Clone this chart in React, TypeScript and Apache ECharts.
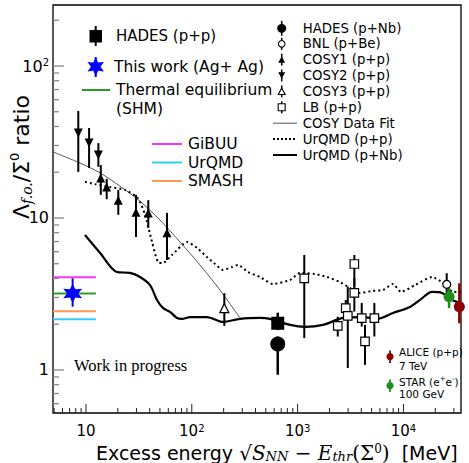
import React, { useEffect, useRef } from 'react';
import * as echarts from 'echarts';

// ---------- axis ranges ----------
const X_MIN = 4.88;
const X_MAX = 35000;
const Y_MIN = 0.521;
const Y_MAX = 252;

// ---------- tick labels ----------
const xTickValues = [10, 100, 1000, 10000];
const xTickLabels = ['10', '10{s|2}', '10{s|3}', '10{s|4}'];
const yTickValues = [1, 10, 100];
const yTickLabels = ['1', '10', '10{s|2}'];

// ---------- data ----------
const cosy1X = [13.8, 15.7, 20.2, 29.7, 38.8, 58.3];
const cosy1Y = [18.3, 16.0, 13.1, 10.9, 10.8, 8.0];
const cosy1Lo = [14.2, 13.3, 10.5, 7.5, 8.6, 5.3];
const cosy1Hi = [22.3, 18.1, 15.3, 14.2, 13.1, 10.8];

const cosy2X = [8.46, 10.7, 13.1];
const cosy2Y = [36.2, 31.1, 26.0];
const cosy2Lo = [20.1, 21.3, 21.7];
const cosy2Hi = [50.6, 39.1, 31.1];

const cosy3X = [203];
const cosy3Y = [2.55];
const cosy3Lo = [1.95];
const cosy3Hi = [3.2];

const lbX = [1156, 3436, 3436, 2851, 2979, 2395, 4036, 5312, 4335];
const lbY = [4.01, 4.98, 3.22, 2.55, 2.27, 1.95, 2.19, 2.19, 1.54];
const lbLo = [1.62, 3.5, 2.42, 2.2, 1.03, 1.66, 1.93, 1.66, 1.08];
const lbHi = [5.71, 5.71, 4.0, 2.89, 3.53, 2.24, 2.76, 2.76, 1.98];

const hadesPpX = [649];
const hadesPpY = [2.03];
const hadesPpLo = [1.83];
const hadesPpHi = [2.38];

const hadesPNbX = [649];
const hadesPNbY = [1.48];
const hadesPNbLo = [0.93];
const hadesPNbHi = [1.66];

const bnlX = [25650];
const bnlY = [3.66];
const bnlLo = [3.19];
const bnlHi = [4.33];

const starX = [27000];
const starY = [3.03];
const starLo = [2.55];
const starHi = [3.46];

const aliceX = [33750];
const aliceY = [2.61];
const aliceLo = [2.03];
const aliceHi = [3.72];

const thisWorkX = [7.48];
const thisWorkY = [3.19];
const thisWorkLo = [2.61];
const thisWorkHi = [4.01];

// model predictions (horizontal bands at low energy)
const modelXRange = [X_MIN, 12.4];
const shmY = 3.18;
const gibuuY = 4.07;
const urqmdAgY = 2.16;
const smashY = 2.43;

const cosyFitX = [4.88, 8.78, 13.6, 20.96, 32.4, 50.0, 77.3, 119.4, 184.5, 285];
const cosyFitY = [27.2, 23.0, 19.8, 16.2, 12.9, 9.7, 6.95, 4.91, 3.36, 2.2];

const urqmdPpX = [9.78, 12.2, 16.9, 23.4, 31.0, 36.1, 42.1, 47.9, 53.4, 65.0, 90.1, 112, 139, 166, 197, 240, 273, 340, 441, 585, 848, 1054, 1460, 1897, 2516, 3128, 3889, 5050, 6415, 7976, 9491, 12870, 18640, 23670, 29440, 35000];
const urqmdPpY = [17.3, 16.7, 16.0, 15.3, 13.5, 10.5, 6.95, 5.13, 5.06, 5.71, 6.95, 6.35, 5.54, 4.98, 4.55, 4.76, 4.91, 4.41, 4.09, 3.68, 3.91, 4.35, 4.28, 4.09, 3.79, 3.46, 3.21, 3.31, 3.36, 3.68, 3.26, 3.62, 4.09, 3.74, 3.26, 3.26];

const urqmdPNbX = [9.78, 13.6, 19.6, 26.1, 32.4, 40.3, 46.9, 53.4, 62.2, 72.5, 80.8, 96.2, 139, 197, 285, 441, 548, 848, 1175, 1739, 2686, 4151, 5629, 7976, 11540, 14350, 18640, 23170, 28800, 35000];
const urqmdPNbY = [7.73, 5.89, 4.41, 4.35, 4.09, 3.62, 2.89, 2.56, 2.41, 2.20, 2.17, 2.23, 2.23, 2.07, 2.17, 2.20, 2.17, 1.98, 1.92, 1.98, 2.20, 2.23, 2.17, 2.37, 2.60, 2.89, 3.26, 3.21, 2.89, 2.76];

// ---------- helpers ----------
const zip = (xs: number[], ys: number[]) => xs.map((x, i) => [x, ys[i]]);

function starPts(cx: number, cy: number, R: number, ratio = 0.5) {
  const pts: number[][] = [];
  for (let k = 0; k < 12; k++) {
    const a = -Math.PI / 2 + (k * Math.PI) / 6;
    const r = k % 2 === 0 ? R : R * ratio;
    pts.push([cx + r * Math.cos(a), cy + r * Math.sin(a)]);
  }
  return pts;
}
const starPath =
  'path://' +
  starPts(50, 50, 50)
    .map((p, i) => (i === 0 ? 'M' : 'L') + p[0].toFixed(2) + ' ' + p[1].toFixed(2))
    .join(' ') +
  ' Z';

function labelFor(values: number[], labels: string[]) {
  return (v: number) => {
    for (let i = 0; i < values.length; i++) {
      if (Math.abs(v - values[i]) / values[i] < 1e-6) return labels[i];
    }
    return '';
  };
}

function errSeries(xs: number[], lo: number[], hi: number[], color: string, width = 2) {
  return {
    type: 'custom',
    silent: true,
    z: 3,
    data: xs.map((x, i) => [x, lo[i], hi[i]]),
    encode: { x: 0, y: [1, 2] },
    renderItem: (_p: any, api: any) => {
      const a = api.coord([api.value(0), api.value(1)]);
      const b = api.coord([api.value(0), api.value(2)]);
      return {
        type: 'line',
        shape: { x1: a[0], y1: a[1], x2: b[0], y2: b[1] },
        style: { stroke: color, lineWidth: width },
      };
    },
  };
}

function ptSeries(xs: number[], ys: number[], symbol: string, size: number, fill: string, border?: string, rotate = 0) {
  return {
    type: 'scatter',
    silent: true,
    z: 4,
    data: zip(xs, ys),
    symbol,
    symbolSize: size,
    symbolRotate: rotate,
    itemStyle: {
      color: fill,
      borderColor: border || fill,
      borderWidth: border ? 1.2 : 0,
      opacity: 1,
    },
  };
}

function lineSeries(xs: number[], ys: number[], color: string, width: number, type: any = 'solid', smooth: any = false) {
  return {
    type: 'line',
    silent: true,
    z: 2,
    data: zip(xs, ys),
    symbol: 'none',
    showSymbol: false,
    smooth,
    lineStyle: { color, width, type },
  };
}

// minor/major tick positions (decades x 1..9)
const xTicks: number[][] = [];
for (let e = 0; e <= 4; e++) {
  for (let m = 1; m <= 9; m++) {
    const v = m * Math.pow(10, e);
    if (v > X_MIN * 1.01 && v < X_MAX * 0.99) xTicks.push([v, 1, m === 1 ? 1 : 0]);
  }
}
const yTicks: number[][] = [];
for (let e = -1; e <= 2; e++) {
  for (let m = 1; m <= 9; m++) {
    const v = m * Math.pow(10, e);
    if (v > Y_MIN * 1.01 && v < Y_MAX * 0.99) yTicks.push([10, v, m === 1 ? 1 : 0]);
  }
}

const SANS = 'DejaVu Sans';

function txt(text: string, x: number, y: number, size: number, family = SANS, extra: any = {}) {
  return {
    type: 'text',
    x,
    y,
    silent: true,
    z: 10,
    style: {
      text,
      fontSize: size,
      fontFamily: family,
      fill: '#000',
      align: 'left',
      textAlign: 'left',
      verticalAlign: 'middle',
      textVerticalAlign: 'middle',
      ...extra,
    },
  };
}
function gline(x1: number, y1: number, x2: number, y2: number, stroke: string, lineWidth: number, lineDash?: number[]) {
  return { type: 'line', silent: true, z: 10, shape: { x1, y1, x2, y2 }, style: { stroke, lineWidth, lineDash } };
}
function gcircle(cx: number, cy: number, r: number, fill: string, stroke = 'none') {
  return { type: 'circle', silent: true, z: 11, shape: { cx, cy, r }, style: { fill, stroke, lineWidth: 1.1 } };
}
function gpoly(points: number[][], fill: string, stroke = 'none') {
  return { type: 'polygon', silent: true, z: 11, shape: { points }, style: { fill, stroke, lineWidth: 1.1 } };
}
function gtri(cx: number, cy: number, s: number, up: boolean, fill: string, stroke = 'none') {
  const h = s * 0.9;
  return up
    ? gpoly([[cx, cy - h / 2], [cx + s / 2, cy + h / 2], [cx - s / 2, cy + h / 2]], fill, stroke)
    : gpoly([[cx, cy + h / 2], [cx + s / 2, cy - h / 2], [cx - s / 2, cy - h / 2]], fill, stroke);
}

// right legend rows
const RLX = 281.7;
const RTX = 302.7;
const RFS = 13.3;
const rRows = [28.3, 43.8, 59.6, 75.5, 91.4, 107.3, 123.2, 139.1, 155];

const graphic: any[] = [
  // top-left legend
  gline(95.7, 26, 95.7, 46, '#000', 2),
  { type: 'rect', silent: true, z: 11, shape: { x: 89.5, y: 30, width: 12.5, height: 12.5 }, style: { fill: '#000' } },
  txt('HADES (p+p)', 116, 36, 15),
  gline(95.7, 57, 95.7, 77, '#0000ff', 2),
  gpoly(starPts(95.7, 66.7, 9.5), '#0000ff'),
  txt('This work (Ag+ Ag)', 114, 66.5, 15.5),
  gline(82, 90, 110, 90, '#2a9a2a', 2),
  txt('Thermal equilibrium', 116, 90, 15.5),
  txt('(SHM)', 116, 108.5, 15.5),
  gline(152, 144, 182, 144, '#ff33ff', 2),
  txt('GiBUU', 188, 144, 15.5),
  gline(152, 162.5, 182, 162.5, '#33ccff', 2),
  txt('UrQMD', 188, 162.5, 15.5),
  gline(152, 181, 182, 181, '#ff9955', 2),
  txt('SMASH', 188, 181, 15.5),

  // right legend
  gline(RLX, rRows[0] - 7.5, RLX, rRows[0] + 7.5, '#000', 1.5),
  gcircle(RLX, rRows[0], 4.5, '#000'),
  txt('HADES (p+Nb)', RTX, rRows[0], RFS),
  gline(RLX, rRows[1] - 6, RLX, rRows[1] + 6, '#000', 1.5),
  gcircle(RLX, rRows[1], 3.3, '#fff', '#000'),
  txt('BNL (p+Be)', RTX, rRows[1], RFS),
  gline(RLX, rRows[2] - 6, RLX, rRows[2] + 6, '#000', 1.5),
  gtri(RLX, rRows[2], 7, true, '#000'),
  txt('COSY1 (p+p)', RTX, rRows[2], RFS),
  gline(RLX, rRows[3] - 6, RLX, rRows[3] + 6, '#000', 1.5),
  gtri(RLX, rRows[3], 7, false, '#000'),
  txt('COSY2 (p+p)', RTX, rRows[3], RFS),
  gline(RLX, rRows[4] - 6, RLX, rRows[4] + 6, '#000', 1.5),
  gtri(RLX, rRows[4], 7, true, '#fff', '#000'),
  txt('COSY3 (p+p)', RTX, rRows[4], RFS),
  gline(RLX, rRows[5] - 6, RLX, rRows[5] + 6, '#000', 1.5),
  { type: 'rect', silent: true, z: 11, shape: { x: RLX - 3.5, y: rRows[5] - 3.5, width: 7, height: 7 }, style: { fill: '#fff', stroke: '#000', lineWidth: 1.1 } },
  txt('LB (p+p)', RTX, rRows[5], RFS),
  gline(273, rRows[6], 297, rRows[6], '#555', 1),
  txt('COSY Data Fit', RTX, rRows[6], RFS),
  gline(273, rRows[7], 297, rRows[7], '#000', 2, [2, 2]),
  txt('UrQMD (p+p)', RTX, rRows[7], RFS),
  gline(273, rRows[8], 297, rRows[8], '#000', 2),
  txt('UrQMD (p+Nb)', RTX, rRows[8], RFS),

  // bottom-right legend
  gline(390, 350.5, 390, 363, '#8b0000', 1.8),
  gcircle(390, 356.7, 3.6, '#8b0000'),
  txt('ALICE (p+p)', 399, 352.3, 10.5),
  txt('7 TeV', 399, 365.7, 10.5),
  gline(390, 379.5, 390, 392, '#1e8c1e', 1.8),
  gcircle(390, 385.7, 3.6, '#1e8c1e'),
  {
    type: 'text',
    x: 399,
    y: 381.7,
    silent: true,
    z: 10,
    style: {
      text: '{a|STAR (e}{p|+}{a|e}{p|-}{a|)}',
      fill: '#000', align: 'left', textAlign: 'left', verticalAlign: 'middle', textVerticalAlign: 'middle',
      rich: {
        a: { fontSize: 10.5, fontFamily: SANS, lineHeight: 13 },
        p: { fontSize: 7, fontFamily: SANS, lineHeight: 7, verticalAlign: 'top' },
      },
    },
  },
  txt('100 GeV', 399, 394, 10.5),

  // Work in progress
  txt('Work in progress', 74, 365, 16.5, 'Liberation Serif'),

  // x axis title
  {
    type: 'text',
    x: 96,
    y: 452.5,
    silent: true,
    z: 10,
    style: {
      text: '{a|Excess energy }{m|√}{i|S}{sb|NN}{m| − }{i|E}{sb|thr}{m|(Σ}{sp|0}{m|)}{a|  [MeV]}',
      fill: '#000',
      align: 'left', textAlign: 'left', verticalAlign: 'middle', textVerticalAlign: 'middle',
      rich: {
        a: { fontSize: 19, fontFamily: SANS, lineHeight: 20 },
        m: { fontSize: 20, fontFamily: 'DejaVu Serif', lineHeight: 20 },
        i: { fontSize: 20, fontFamily: 'DejaVu Serif', fontStyle: 'italic', lineHeight: 20 },
        sb: { fontSize: 13, fontFamily: 'DejaVu Serif', fontStyle: 'italic', lineHeight: 12, verticalAlign: 'bottom' },
        sp: { fontSize: 12, fontFamily: 'DejaVu Serif', lineHeight: 10, verticalAlign: 'top' },
      },
    },
  },

  // y axis title
  {
    type: 'text',
    x: 21,
    y: 157,
    rotation: Math.PI / 2,
    silent: true,
    z: 10,
    style: {
      text: '{a|Λ}{sb|f.o.}{a|/Σ}{sp|0}{a| ratio}',
      fill: '#000',
      align: 'center', textAlign: 'center', verticalAlign: 'middle', textVerticalAlign: 'middle',
      rich: {
        a: { fontSize: 22, fontFamily: SANS, lineHeight: 26 },
        sb: { fontSize: 14, fontFamily: 'DejaVu Serif', fontStyle: 'italic', lineHeight: 14, verticalAlign: 'bottom' },
        sp: { fontSize: 13, fontFamily: SANS, lineHeight: 13, verticalAlign: 'top' },
      },
    },
  },
];

const option: any = {
  animation: false,
  backgroundColor: '#fff',
  grid: {
    left: 53,
    top: 5,
    width: 408,
    height: 408,
    show: true,
    borderColor: '#000',
    borderWidth: 1.3,
    backgroundColor: 'transparent',
  },
  xAxis: {
    type: 'log',
    logBase: 10,
    min: X_MIN,
    max: X_MAX,
    axisLine: { show: false },
    axisTick: { show: false },
    splitLine: { show: false },
    minorTick: { show: false },
    axisLabel: {
      margin: 10,
      color: '#000',
      formatter: labelFor(xTickValues, xTickLabels),
      rich: {
        s: { fontSize: 10, fontFamily: SANS, lineHeight: 9, verticalAlign: 'top', color: '#000' },
      },
      fontSize: 15,
      fontFamily: SANS,
      lineHeight: 15,
    },
  },
  yAxis: {
    type: 'log',
    logBase: 10,
    min: Y_MIN,
    max: Y_MAX,
    axisLine: { show: false },
    axisTick: { show: false },
    splitLine: { show: false },
    minorTick: { show: false },
    axisLabel: {
      margin: 4,
      color: '#000',
      formatter: labelFor(yTickValues, yTickLabels),
      rich: {
        s: { fontSize: 10, fontFamily: SANS, lineHeight: 10, verticalAlign: 'top', color: '#000' },
      },
      fontSize: 16,
      fontFamily: SANS,
      lineHeight: 18,
    },
  },
  graphic,
  series: [
    // axis ticks
    {
      type: 'custom',
      silent: true,
      z: 6,
      data: xTicks,
      encode: { x: 0, y: 1 },
      renderItem: (params: any, api: any) => {
        const cs = params.coordSys;
        const px = api.coord([api.value(0), 1])[0];
        const len = api.value(2) ? 9 : 5;
        const b = cs.y + cs.height;
        return { type: 'line', shape: { x1: px, y1: b, x2: px, y2: b - len }, style: { stroke: '#222', lineWidth: 1 } };
      },
    },
    {
      type: 'custom',
      silent: true,
      z: 6,
      data: yTicks,
      encode: { x: 0, y: 1 },
      renderItem: (params: any, api: any) => {
        const cs = params.coordSys;
        const py = api.coord([10, api.value(1)])[1];
        const len = api.value(2) ? 11 : 6;
        return { type: 'line', shape: { x1: cs.x, y1: py, x2: cs.x + len, y2: py }, style: { stroke: '#888', lineWidth: 1.3 } };
      },
    },

    // model lines
    lineSeries(modelXRange, [gibuuY, gibuuY], '#ff33ff', 2),
    lineSeries(modelXRange, [shmY, shmY], '#2a9a2a', 2),
    lineSeries(modelXRange, [smashY, smashY], '#ff9955', 2),
    lineSeries(modelXRange, [urqmdAgY, urqmdAgY], '#33ccff', 2),

    // curves
    lineSeries(cosyFitX, cosyFitY, '#555', 1, 'solid', 0.3),
    lineSeries(urqmdPpX, urqmdPpY, '#000', 2, [2, 3], 0.2),
    lineSeries(urqmdPNbX, urqmdPNbY, '#000', 2.2, 'solid', 0.3),

    // error bars
    errSeries(cosy1X, cosy1Lo, cosy1Hi, '#000'),
    errSeries(cosy2X, cosy2Lo, cosy2Hi, '#000'),
    errSeries(cosy3X, cosy3Lo, cosy3Hi, '#000'),
    errSeries(lbX, lbLo, lbHi, '#000'),
    errSeries(hadesPpX, hadesPpLo, hadesPpHi, '#000', 2.5),
    errSeries(hadesPNbX, hadesPNbLo, hadesPNbHi, '#000', 2.5),
    errSeries(bnlX, bnlLo, bnlHi, '#000'),
    errSeries(starX, starLo, starHi, '#1e8c1e', 2.5),
    errSeries(aliceX, aliceLo, aliceHi, '#8b0000', 2.5),
    errSeries(thisWorkX, thisWorkLo, thisWorkHi, '#0000ff', 2),

    // markers
    ptSeries(cosy1X, cosy1Y, 'triangle', 9, '#000'),
    ptSeries(cosy2X, cosy2Y, 'triangle', 9, '#000', undefined, 180),
    ptSeries(cosy3X, cosy3Y, 'triangle', 9, '#fff', '#000'),
    ptSeries(lbX, lbY, 'rect', 8.5, '#fff', '#000'),
    ptSeries(hadesPpX, hadesPpY, 'rect', 13, '#000'),
    ptSeries(hadesPNbX, hadesPNbY, 'circle', 15, '#000'),
    ptSeries(bnlX, bnlY, 'circle', 8, '#fff', '#000'),
    ptSeries(starX, starY, 'circle', 11, '#1e8c1e'),
    ptSeries(aliceX, aliceY, 'circle', 11, '#8b0000'),
    ptSeries(thisWorkX, thisWorkY, starPath, 19, '#0000ff'),
  ],
};

export default function App() {
  const ref = useRef<HTMLDivElement>(null);
  useEffect(() => {
    const chart = echarts.init(ref.current!, null, { renderer: 'svg' });
    chart.setOption(option);
    return () => chart.dispose();
  }, []);
  return <div ref={ref} style={{ position: 'fixed', left: 0, top: 0, width: 469, height: 463 }} />;
}
